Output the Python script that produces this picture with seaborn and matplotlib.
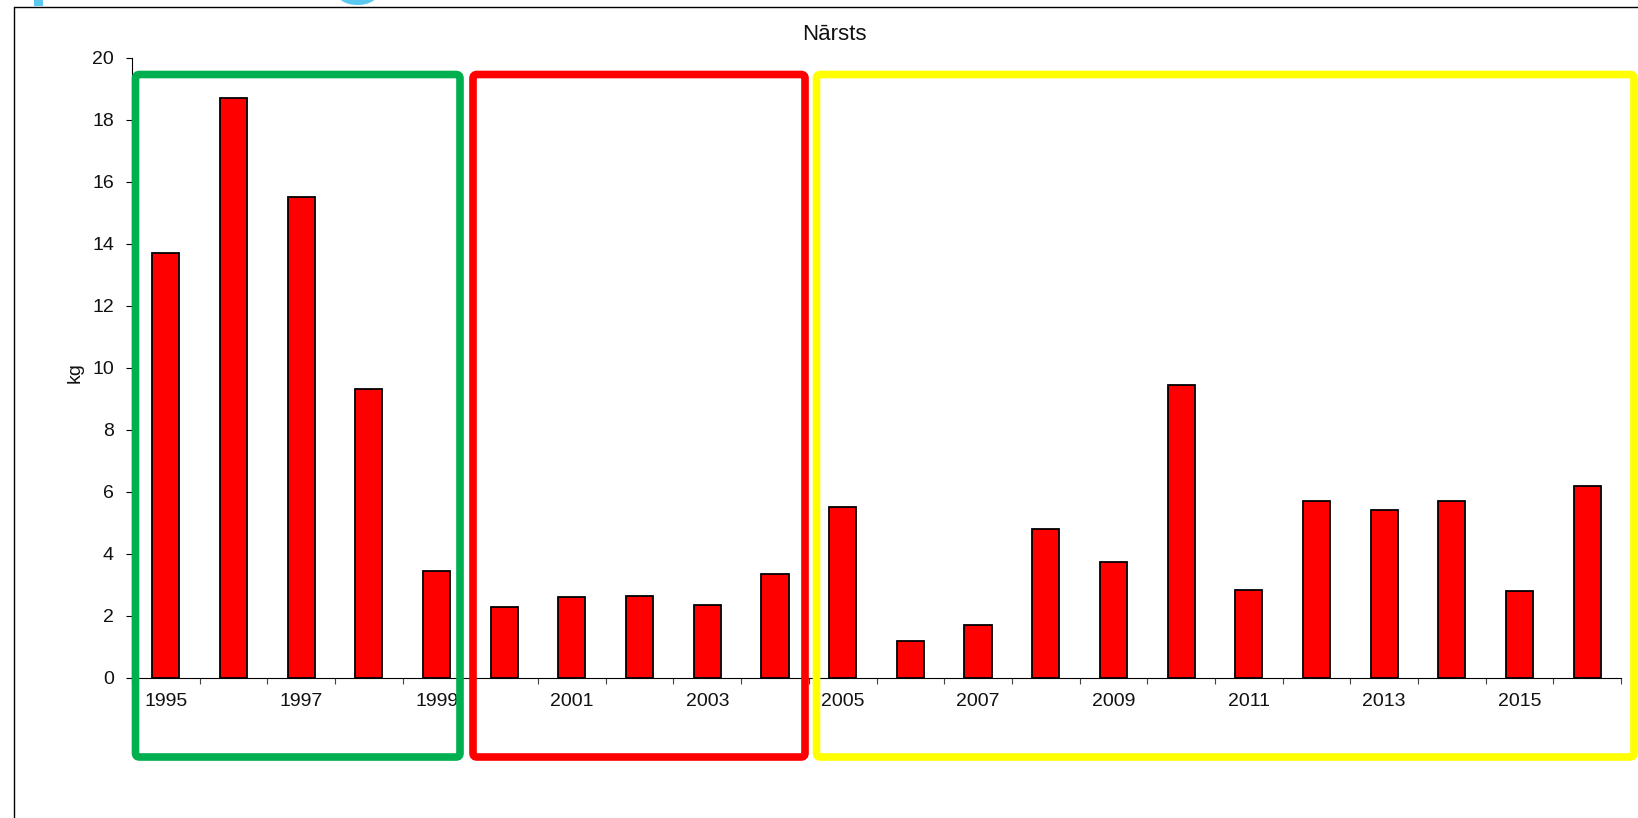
import matplotlib
matplotlib.use("Agg")
import matplotlib.pyplot as plt
from matplotlib.patches import FancyBboxPatch, Rectangle, Ellipse
from matplotlib.lines import Line2D
import seaborn as sns
import pandas as pd

# Spawning catch per year
years = [1995, 1996, 1997, 1998, 1999, 2000, 2001, 2002, 2003, 2004, 2005,
         2006, 2007, 2008, 2009, 2010, 2011, 2012, 2013, 2014, 2015, 2016]
catch_kg = [13.7, 18.7, 15.5, 9.3, 3.45, 2.3, 2.6, 2.65, 2.35, 3.35, 5.5,
            1.2, 1.7, 4.8, 3.75, 9.45, 2.85, 5.7, 5.4, 5.7, 2.8, 6.2]
labelled_years = [1995, 1997, 1999, 2001, 2003, 2005, 2007, 2009, 2011, 2013, 2015]
y_ticks = [0, 2, 4, 6, 8, 10, 12, 14, 16, 18, 20]

df = pd.DataFrame({"year": [str(y) for y in years], "kg": catch_kg})

W, H = 1638, 818
sns.set_theme(style="white")
plt.rcParams["font.family"] = ["Liberation Sans", "DejaVu Sans"]

fig = plt.figure(figsize=(W / 100, H / 100), dpi=100)
fig.patch.set_facecolor("white")


def px(x0, y0, x1, y1):
    """Pixel box (top-left origin) -> figure fraction rect."""
    return [x0 / W, 1 - y1 / H, (x1 - x0) / W, (y1 - y0) / H]


ax = fig.add_axes(px(132, 57.5, 1621, 678))
sns.barplot(data=df, x="year", y="kg", color="#FF0000", width=0.4,
            edgecolor="black", linewidth=1.3, saturation=1, ax=ax)

ax.set_xlim(-0.5, len(years) - 0.5)
ax.set_ylim(0, 20)
ax.set_yticks(y_ticks)
ax.set_yticklabels([str(v) for v in y_ticks], fontsize=14, color="#111111")
ax.tick_params(axis="y", direction="out", length=4, width=0.8, color="black",
               pad=9, left=True)

# category boundaries carry the tick marks, labels sit under every other bar
ax.set_xticks([i - 0.5 for i in range(len(years) + 1)])
ax.set_xticklabels([])
ax.tick_params(axis="x", which="major", direction="out", length=4.5,
               width=0.8, color="#444444", bottom=True)
ax.set_xticks([years.index(y) for y in labelled_years], minor=True)
ax.set_xticklabels([str(y) for y in labelled_years], minor=True,
                   fontsize=14, color="#111111")
ax.tick_params(axis="x", which="minor", length=0, pad=11)

ax.set_xlabel("")
ax.set_ylabel("")
for side in ("top", "right"):
    ax.spines[side].set_visible(False)
for side in ("left", "bottom"):
    ax.spines[side].set_color("black")
    ax.spines[side].set_linewidth(0.8)
ax.grid(False)

fig.text(834.5 / W, 1 - 35 / H, "Nārsts", ha="center", va="center",
         fontsize=16, color="#111111")
fig.text(75 / W, 1 - 373 / H, "kg", ha="center", va="center",
         rotation=90, fontsize=14, color="#111111")

# outer chart frame
fig.add_artist(Line2D([13.5 / W, 1.0], [1 - 6.5 / H] * 2,
                      transform=fig.transFigure, color="black", lw=1))
fig.add_artist(Line2D([13.5 / W] * 2, [0, 1 - 6.5 / H],
                      transform=fig.transFigure, color="black", lw=1))

# period boxes
periods = [
    (135.5, 460, "#00B050"),
    (473, 805, "#FF0000"),
    (816.5, 1634, "#FFFF00"),
]
for x0, x1, col in periods:
    box = FancyBboxPatch((x0, H - 757), x1 - x0, 757 - 74.5,
                         boxstyle="round,pad=0,rounding_size=4",
                         transform=None, fill=False, edgecolor=col,
                         linewidth=5.5, zorder=5)
    fig.add_artist(box)

# heading fragments above the frame
fig.add_artist(Rectangle((34, H - 6), 9, 6, transform=None,
                         facecolor="#5BC8F0", edgecolor="none", zorder=6))
fig.add_artist(Ellipse((357.5, H + 6), 40, 22, transform=None,
                       facecolor="#5BC8F0", edgecolor="none", zorder=6))

fig.savefig("out.png", dpi=100, facecolor="white")
